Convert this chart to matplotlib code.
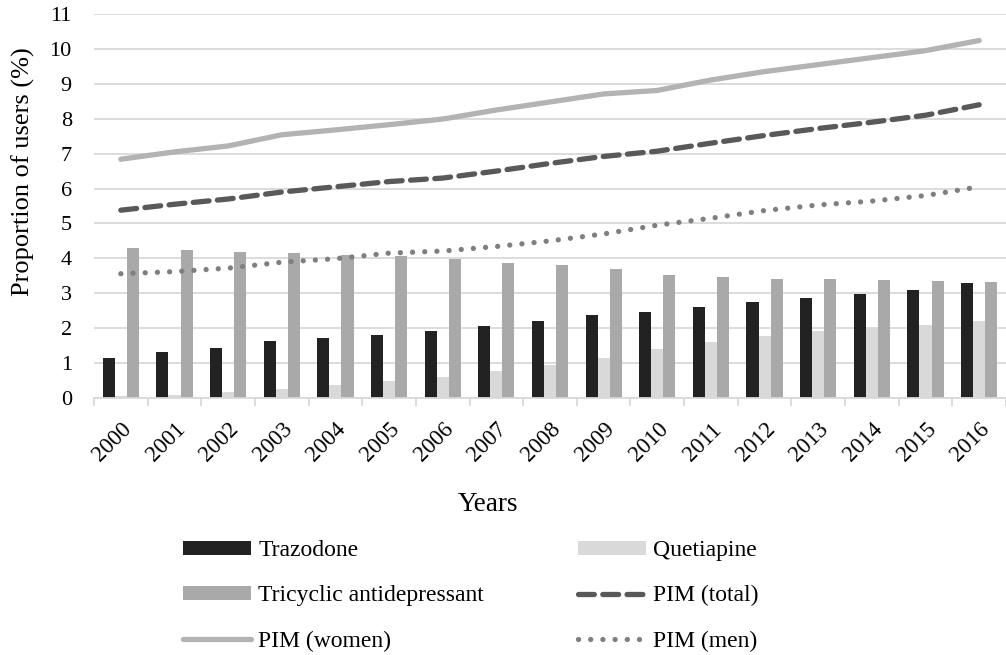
import matplotlib
matplotlib.use("Agg")
import matplotlib.pyplot as plt
import numpy as np

plt.rcParams['font.family'] = ['Liberation Serif', 'DejaVu Serif']

years = [str(y) for y in range(2000, 2017)]
trazodone = [1.14, 1.31, 1.43, 1.64, 1.71, 1.81, 1.92, 2.05, 2.22, 2.39, 2.47,
             2.61, 2.76, 2.86, 2.97, 3.10, 3.29]
quetiapine = [0.06, 0.10, 0.16, 0.26, 0.37, 0.49, 0.60, 0.78, 0.95, 1.15, 1.40,
              1.60, 1.78, 1.92, 2.01, 2.09, 2.21]
tricyclic = [4.30, 4.25, 4.18, 4.15, 4.10, 4.06, 3.98, 3.88, 3.81, 3.70, 3.52,
             3.47, 3.41, 3.41, 3.38, 3.36, 3.32]
pim_total = [5.38, 5.55, 5.70, 5.90, 6.05, 6.20, 6.30, 6.50, 6.72, 6.92, 7.07,
             7.30, 7.52, 7.72, 7.90, 8.10, 8.40]
pim_women = [6.84, 7.05, 7.22, 7.54, 7.68, 7.83, 7.99, 8.25, 8.48, 8.71, 8.81,
             9.11, 9.35, 9.55, 9.75, 9.95, 10.24]
pim_men = [3.56, 3.62, 3.72, 3.89, 3.99, 4.15, 4.21, 4.34, 4.50, 4.70, 4.95,
           5.15, 5.37, 5.53, 5.64, 5.80, 6.05]

fig = plt.figure(figsize=(10.06, 6.55), dpi=100)
ax = fig.add_axes([94 / 1006, 1 - 398 / 655, 912 / 1006, 384 / 655])

x = np.arange(len(years))
w = 0.225
ax.bar(x - w, trazodone, w, color='#222222', label='Trazodone', zorder=2)
ax.bar(x, quetiapine, w, color='#d9d9d9', label='Quetiapine', zorder=2)
ax.bar(x + w, tricyclic, w, color='#a9a9a9', label='Tricyclic antidepressant', zorder=2)
ax.plot(x, pim_total, color='#595959', lw=3.8, ls=(0, (3, 1.6)),
        solid_capstyle='round', dash_capstyle='round', label='PIM (total)', zorder=3)
ax.plot(x, pim_women, color='#b3b3b3', lw=3.8, solid_capstyle='round',
        label='PIM (women)', zorder=3)
ax.plot(x, pim_men, color='#7f7f7f', lw=3.8, ls=(0, (0.01, 2.3)),
        dash_capstyle='round', label='PIM (men)', zorder=3)

ax.set_xlim(-0.5, len(years) - 0.5)
ax.set_ylim(0, 11)
ax.set_yticks(range(0, 12))
ax.yaxis.grid(True, color='#d9d9d9', lw=1.3, zorder=0)
ax.tick_params(axis='y', length=0, labelsize=16, pad=16)
ax.set_xticks(x)
ax.set_xticklabels(years, rotation=45, fontsize=16.5, ha='right',
                   rotation_mode='anchor')
ax.tick_params(axis='x', length=0, pad=15)
ax.set_xticks(np.arange(-0.5, len(years), 1), minor=True)
ax.tick_params(axis='x', which='minor', length=6, color='#d9d9d9', width=1.3)
for s in ['top', 'right', 'left']:
    ax.spines[s].set_visible(False)
ax.spines['bottom'].set_color('#d9d9d9')
ax.spines['bottom'].set_linewidth(1.3)

ax.set_ylabel('Proportion of users (%)', fontsize=19)
ax.yaxis.set_label_coords(-0.065, 0.589)
ax.set_xlabel('Years', fontsize=19.5)
ax.xaxis.set_label_coords(0.432, -0.245)

h, l = ax.get_legend_handles_labels()
# legend fills column by column
order = ['Trazodone', 'Tricyclic antidepressant', 'PIM (women)',
         'Quetiapine', 'PIM (total)', 'PIM (men)']
hs = [h[l.index(o)] for o in order]
fig.legend(hs, order, ncol=2, loc='center left',
           bbox_to_anchor=(183 / 1006, 1 - 596 / 655), borderpad=0,
           borderaxespad=0, frameon=False, fontsize=17, handlelength=2.88,
           handleheight=0.5, columnspacing=4.0, labelspacing=1.02,
           handletextpad=0.3)

fig.savefig('out.png', dpi=100)
